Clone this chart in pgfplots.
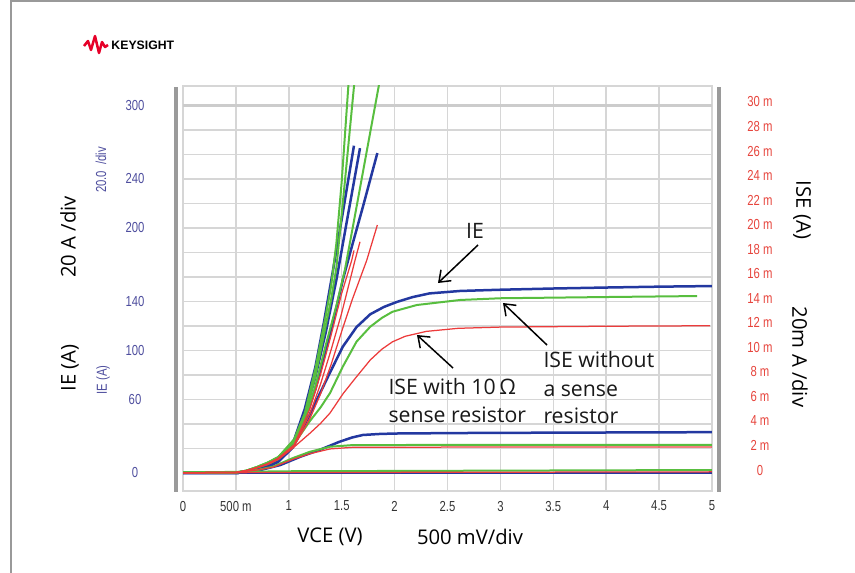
\documentclass[border=0pt]{standalone}
\usepackage{fontspec}
\setmainfont{Open Sans}
\newfontfamily\tickfont[FakeStretch=0.78]{Liberation Sans}
\newfontfamily\logofont{Liberation Sans}
\usepackage{pgfplots}
\pgfplotsset{compat=1.18}
\usetikzlibrary{arrows.meta}

\definecolor{ieblue}{HTML}{2338A0}
\definecolor{isegreen}{HTML}{58BE3F}
\definecolor{isered}{HTML}{EC3B3B}
\definecolor{gridgray}{HTML}{D6D6D6}
\definecolor{bargray}{HTML}{9A9A9A}
\definecolor{tickblue}{HTML}{4E4E9E}
\definecolor{tickred}{HTML}{E6453D}
\definecolor{ksred}{HTML}{E60028}

\newcommand{\tickf}{\tickfont\fontsize{5.8}{7}\selectfont}
\newcommand{\annf}{\fontsize{8.5}{10}\selectfont}
\newcommand{\labf}{\fontsize{8.1}{10}\selectfont}

\begin{document}
\begin{tikzpicture}
% frame, logo, labels (1 unit = 1 px of the reference, y downwards)
\begin{scope}[x=0.4pt,y=-0.4pt]
  \path[use as bounding box] (0,0) rectangle (855,573);
  \draw[gray!80, line width=0.5pt] (11,573) -- (11,1) -- (855,1);
  \draw[ksred, line width=1pt, line join=round]
    (84,46) -- (88,41) -- (91,50) -- (95,36) -- (99,53) -- (102,42) -- (105,47) -- (108,45);
  \node[anchor=west, inner sep=0, font=\logofont\bfseries\fontsize{4.9}{6}\selectfont] at (111,45) {KEYSIGHT};
  \draw[bargray, line width=1.6pt] (176,87) -- (176,492);
  \draw[bargray, line width=1.6pt] (719,87) -- (719,492);
  \node[rotate=90, font=\labf] at (68,237) {20 A /div};
  \node[rotate=90, font=\labf] at (70,368) {IE (A)};
  \node[rotate=90, font=\tickf, text=tickblue] at (101,170) {20.0 \ /div};
  \node[rotate=90, font=\tickf, text=tickblue] at (103,380) {IE (A)};
  \node[rotate=-90, font=\labf] at (802,210) {ISE (A)};
  \node[rotate=-90, font=\labf] at (800,357) {20m A /div};
  \node[font=\labf] at (330,537) {VCE (V)};
  \node[font=\labf] at (470,537) {500 mV/div};
\end{scope}

% IE on the left axis (A)
\begin{axis}[
  at={(73.2pt,-196.4pt)}, anchor=south west,
  width=211.6pt, height=162pt, scale only axis,
  xmin=0, xmax=5, ymin=-14.7, ymax=315.7,
  xtick={0,0.5,...,5},
  xticklabels={0,500 m,1,1.5,2,2.5,3,3.5,4,4.5,5},
  ytick={0,20,...,300},
  yticklabels={0,,,60,,100,,140,,,200,,240,,,300},
  extra y ticks={300}, extra y tick labels={},
  extra y tick style={grid style={line width=1.1pt, color=gray!40}},
  major tick length=0pt, tick style={draw=none},
  xticklabel style={font=\tickf, text=black!80, anchor=center, yshift=-6pt},
  yticklabel style={font=\tickf, text=tickblue, anchor=center, xshift=-19.2pt},
  grid=major, grid style={line width=0.6pt, color=gridgray},
  axis line style={line width=0.6pt, color=gridgray},
]
\addplot[ieblue, line width=1pt] coordinates {(0,0) (5,0)};
\addplot[ieblue, line width=1pt] coordinates {
  (0,0) (0.5,0) (0.62,0.8) (0.73,2.4) (0.92,6.5) (1.11,13.3) (1.29,18.8)
  (1.48,25.5) (1.6,29) (1.70,31) (1.85,31.8) (2.0,32.2) (2.62,32.6) (3.5,32.9) (5,33.3)};
\addplot[ieblue, line width=1pt] coordinates {
  (0,0) (0.5,0) (0.6,0.8) (0.7,2.5) (0.8,5) (0.9,9) (1.04,21) (1.2,48) (1.3,66)
  (1.39,82) (1.51,103) (1.64,119) (1.77,129.5) (1.9,135.5) (2.02,139.5) (2.17,143.5)
  (2.33,146.5) (2.62,148.5) (3.0,149.5) (3.5,150.5) (4.0,151.3) (4.5,152) (5.0,152.5)};
\addplot[ieblue, line width=1pt] coordinates {
  (0,0) (0.5,0) (0.6,0.8) (0.7,3) (0.8,6) (0.9,11) (1.05,25) (1.15,44) (1.25,68)
  (1.35,100) (1.45,135) (1.515,159) (1.6,186) (1.7,217) (1.837,261)};
\addplot[ieblue, line width=1pt] coordinates {
  (0,0) (0.5,0) (0.6,0.8) (0.7,3) (0.8,6) (0.9,11) (1.05,26) (1.15,48) (1.25,78)
  (1.35,115) (1.453,159) (1.55,206) (1.673,265)};
\addplot[ieblue, line width=1pt] coordinates {
  (0,0) (0.5,0) (0.6,0.8) (0.7,3) (0.8,6) (0.9,11) (1.05,27) (1.15,52) (1.25,86)
  (1.33,122) (1.405,159) (1.5,207) (1.616,267)};
\end{axis}

% ISE on the right axis (mA)
\begin{axis}[
  at={(73.2pt,-196.4pt)}, anchor=south west,
  width=211.6pt, height=162pt, scale only axis,
  xmin=0, xmax=5, ymin=-1.71, ymax=31.3,
  axis x line=none, axis y line*=right, axis line style={draw=none},
  ytick={0,2,...,30},
  yticklabels={0,2 m,4 m,6 m,8 m,10 m,12 m,14 m,16 m,18 m,20 m,22 m,24 m,26 m,28 m,30 m},
  major tick length=0pt, tick style={draw=none},
  yticklabel style={font=\tickf, text=tickred, anchor=center, xshift=19.2pt},
]
% without a sense resistor
\addplot[isegreen, line width=0.8pt] coordinates {(0,-0.2) (1,-0.1) (5,0)};
\addplot[isegreen, line width=0.8pt] coordinates {
  (0,-0.22) (0.5,-0.2) (0.7,0.0) (0.85,0.27) (1.04,0.98) (1.2,1.49) (1.39,1.9) (1.6,2.03)
  (2.62,2.05) (5,2.06)};
\addplot[isegreen, line width=0.8pt] coordinates {
  (0,-0.22) (0.5,-0.2) (0.6,-0.05) (0.7,0.2) (0.8,0.48) (0.9,0.9) (1.04,2.0) (1.2,4.0) (1.3,5.1)
  (1.39,6.28) (1.51,8.42) (1.64,10.46) (1.77,11.68) (1.88,12.4) (1.98,12.9) (2.21,13.45)
  (2.62,13.86) (3.0,14.0) (4.0,14.1) (4.86,14.18)};
\addplot[isegreen, line width=0.8pt] coordinates {
  (0,-0.22) (0.5,-0.2) (0.6,-0.05) (0.7,0.25) (0.8,0.6) (0.9,1.05) (1.05,2.3) (1.15,4.0) (1.25,6.8)
  (1.35,10.2) (1.45,13.4) (1.53,16.3) (1.65,21.9) (1.75,26.6) (1.846,31.1) (1.9,33.6)};
\addplot[isegreen, line width=0.8pt] coordinates {
  (0,-0.22) (0.5,-0.2) (0.6,-0.05) (0.7,0.25) (0.8,0.6) (0.9,1.05) (1.05,2.4) (1.15,4.3) (1.25,7.6)
  (1.35,11.8) (1.40,13.9) (1.45,16.5) (1.53,23.5) (1.616,31.25) (1.65,34.5)};
\addplot[isegreen, line width=0.8pt] coordinates {
  (0,-0.22) (0.5,-0.2) (0.6,-0.05) (0.7,0.25) (0.8,0.6) (0.9,1.05) (1.05,2.5) (1.15,4.6) (1.25,8.2)
  (1.35,12.6) (1.40,15) (1.45,18.5) (1.5,23.5) (1.5625,31.25) (1.6,35.5)};
% with a 10 ohm sense resistor
\addplot[isered, line width=0.5pt] coordinates {(0,-0.22) (5,-0.15)};
\addplot[isered, line width=0.5pt] coordinates {
  (0,-0.22) (0.5,-0.2) (0.7,0.0) (0.85,0.23) (1.04,0.88) (1.2,1.33) (1.39,1.72) (1.6,1.85)
  (2.6,1.87) (5,1.88)};
\addplot[isered, line width=0.5pt] coordinates {
  (0,-0.22) (0.5,-0.2) (0.6,-0.05) (0.7,0.18) (0.8,0.45) (0.9,0.85) (1.04,1.8) (1.2,3.0) (1.3,3.8)
  (1.39,4.65) (1.515,6.25) (1.64,7.6) (1.77,8.97) (1.88,9.85) (1.98,10.45) (2.1,10.9)
  (2.3,11.3) (2.6,11.55) (3.0,11.65) (4.0,11.72) (4.98,11.76)};
\addplot[isered, line width=0.5pt] coordinates {
  (0,-0.22) (0.5,-0.2) (0.6,-0.05) (0.7,0.2) (0.8,0.5) (0.9,0.95) (1.05,1.95) (1.2,4.2) (1.3,6.2)
  (1.4,8.6) (1.5,11.3) (1.6,13.9) (1.737,17.1) (1.837,19.97)};
\addplot[isered, line width=0.5pt] coordinates {
  (0,-0.22) (0.5,-0.2) (0.6,-0.05) (0.7,0.2) (0.8,0.5) (0.9,0.95) (1.05,2.0) (1.2,4.6) (1.3,7.0)
  (1.4,9.8) (1.5,12.8) (1.626,17.1) (1.673,18.6)};
\addplot[isered, line width=0.5pt] coordinates {
  (0,-0.22) (0.5,-0.2) (0.6,-0.05) (0.7,0.2) (0.8,0.5) (0.9,0.95) (1.05,2.05) (1.2,5.0) (1.3,7.8)
  (1.4,11.0) (1.5,14.4) (1.595,17.1) (1.616,17.9)};
\end{axis}

% annotations
\begin{scope}[x=0.4pt,y=-0.4pt, font=\annf, text=black!90]
  \node at (475,231) {IE};
  \draw[line width=0.6pt, -{Straight Barb[length=4pt,width=6pt]}] (478,245) -- (438,283);
  \node[anchor=base west, inner sep=0] at (543,367) {ISE without};
  \node[anchor=base west, inner sep=0] at (543,396) {a sense};
  \node[anchor=base west, inner sep=0] at (543,423) {resistor};
  \draw[line width=0.6pt, -{Straight Barb[length=4pt,width=6pt]}] (547,345) -- (503,303);
  \node[anchor=base west, inner sep=0] at (388,394) {ISE with 10\,Ω};
  \node[anchor=base west, inner sep=0] at (388,422) {sense resistor};
  \draw[line width=0.6pt, -{Straight Barb[length=4pt,width=6pt]}] (453,368) -- (417,335);
\end{scope}
\end{tikzpicture}
\end{document}
